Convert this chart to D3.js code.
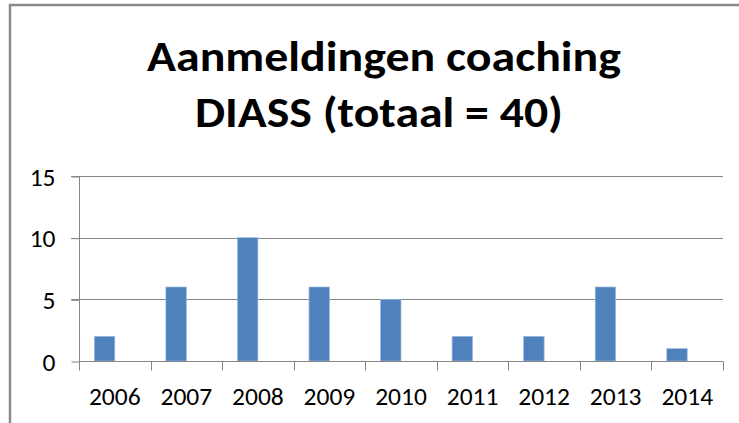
<!DOCTYPE html>
<html>
<head>
<meta charset="utf-8">
<script src="https://cdn.jsdelivr.net/npm/d3@7"></script>
<style>
  html, body { margin: 0; padding: 0; background: #fff; }
  svg { display: block; }
</style>
</head>
<body>
<svg id="chart" width="739" height="423"></svg>
<script>
const titleLines = ["Aanmeldingen coaching", "DIASS (totaal = 40)"];
const years = ["2006", "2007", "2008", "2009", "2010", "2011", "2012", "2013", "2014"];
const aanmeldingen = [2, 6, 10, 6, 5, 2, 2, 6, 1];
const seriesNames = ["Aanmeldingen", "(leeg)"];
const yTicks = [0, 5, 10, 15];

const svg = d3.select("#chart");
const W = 739, H = 423;
const plot = { left: 79, right: 723, top: 176, bottom: 361 };
const gridColor = "#868686";
const font = "Carlito, Calibri, Lato, 'Open Sans', sans-serif";

// frame border
svg.append("rect")
  .attr("x", 10).attr("y", 5)
  .attr("width", W + 20).attr("height", H + 20)
  .attr("fill", "#fff")
  .attr("stroke", "#8a8a8a")
  .attr("stroke-width", 2.5);

// title
const titleWidths = [474, 368];
const titleX = [384, 379];
const titleY = [71, 127];
svg.append("g").selectAll("text").data(titleLines).join("text")
  .attr("x", (d, i) => titleX[i])
  .attr("y", (d, i) => titleY[i])
  .attr("text-anchor", "middle")
  .attr("font-family", font)
  .attr("font-weight", "bold")
  .attr("font-size", 42)
  .attr("fill", "#000")
  .attr("textLength", (d, i) => titleWidths[i])
  .attr("lengthAdjust", "spacingAndGlyphs")
  .text(d => d);

// scales
const x = d3.scaleBand().domain(years).range([plot.left, plot.right]).paddingInner(0).paddingOuter(0);
const xInner = d3.scaleBand().domain(seriesNames).range([0, x.bandwidth()]).paddingInner(0).paddingOuter(0.75);
const y = d3.scaleLinear().domain([0, 15]).range([plot.bottom, plot.top]);

// gridlines (including tick stubs on the left)
svg.append("g").selectAll("line").data(yTicks.filter(v => v > 0)).join("line")
  .attr("x1", plot.left - 8).attr("x2", plot.right)
  .attr("y1", d => Math.round(y(d)) + 0.5).attr("y2", d => Math.round(y(d)) + 0.5)
  .attr("stroke", gridColor).attr("stroke-width", 1);

// y axis
const yAxis = d3.axisLeft(y).tickValues(yTicks).tickSize(8).tickPadding(16);
const gy = svg.append("g").attr("transform", `translate(${plot.left + 0.5},0)`).call(yAxis);
gy.select(".domain").attr("stroke", gridColor).attr("d", `M0,${y(15)}V${plot.bottom + 9}`);
gy.selectAll(".tick line").attr("stroke", gridColor).attr("transform", "translate(0,0.5)");
gy.selectAll(".tick text")
  .attr("font-family", font).attr("font-size", 25.5).attr("fill", "#000")
  .attr("dy", "0.36em");

// bars
svg.append("g").selectAll("rect").data(years.map((yr, i) => ({ yr, v: aanmeldingen[i] }))).join("rect")
  .attr("x", d => x(d.yr) + xInner(seriesNames[0]))
  .attr("width", xInner.bandwidth())
  .attr("y", d => y(d.v))
  .attr("height", d => y(0) - y(d.v))
  .attr("fill", "#4f81bd")
  .attr("stroke", "#9fb9dc")
  .attr("stroke-width", 0.7);

// x axis
const xAxis = d3.axisBottom(x).tickSize(0).tickPadding(34);
const gx = svg.append("g").attr("transform", `translate(0,${Math.round(plot.bottom) + 0.5})`).call(xAxis);
gx.select(".domain").attr("stroke", gridColor).attr("d", `M${plot.left},0H${plot.right}`);
gx.selectAll(".tick text")
  .attr("font-family", font).attr("font-size", 25.5).attr("fill", "#000")
  .attr("dy", "0.36em");
// category boundary tick marks
const boundaries = years.map(d => x(d)).concat([x(years[years.length - 1]) + x.bandwidth()]);
gx.append("g").selectAll("line").data(boundaries).join("line")
  .attr("x1", d => Math.round(d) + 0.5).attr("x2", d => Math.round(d) + 0.5)
  .attr("y1", 0).attr("y2", 9)
  .attr("stroke", gridColor);
</script>
</body>
</html>
